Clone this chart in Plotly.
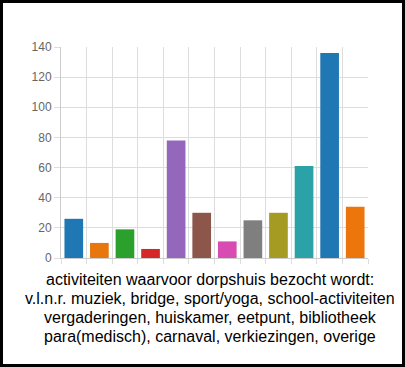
import plotly.graph_objects as go

categories = ["muziek", "bridge", "sport/yoga", "school-activiteiten", "vergaderingen",
              "huiskamer", "eetpunt", "bibliotheek", "para(medisch)", "carnaval",
              "verkiezingen", "overige"]
values = [26, 10, 19, 6, 78, 30, 11, 25, 30, 61, 136, 34]
colors = ['#1f77b4', '#e8760c', '#2ca02c', '#d62728', '#9467bd', '#8c564b',
          '#d84bb2', '#7f7f7f', '#a69b22', '#2aa2a8', '#1f77b4', '#ec760c']
y_ticks = [0, 20, 40, 60, 80, 100, 120, 140]
caption = ["activiteiten waarvoor dorpshuis bezocht wordt:",
           "v.l.n.r. muziek, bridge, sport/yoga, school-activiteiten",
           "vergaderingen, huiskamer, eetpunt, bibliotheek",
           "para(medisch), carnaval, verkiezingen, overige"]

W, H = 405, 367
L, R, T, B = 61, 37, 47, 109
pw, ph = W - L - R, H - T - B

fig = go.Figure(go.Bar(x=categories, y=values, marker=dict(color=colors, line=dict(width=0)),
                       hoverinfo="x+y"))

fig.update_layout(
    width=W, height=H, margin=dict(l=L, r=R, t=T, b=B),
    paper_bgcolor="white", plot_bgcolor="white", showlegend=False, bargap=0.27,
    font=dict(family="Liberation Sans, Arial, sans-serif"),
)
fig.update_xaxes(type="category", tickson="boundaries", showgrid=True, gridcolor="#dddddd",
                 gridwidth=1, ticks="outside", ticklen=5, tickcolor="#dddddd",
                 showticklabels=False, showline=True, linecolor="#cccccc", linewidth=1,
                 zeroline=False, mirror=False)
fig.update_yaxes(range=[0, 140], tickvals=y_ticks, showgrid=True, gridcolor="#dddddd",
                 gridwidth=1, ticks="outside", ticklen=6, tickcolor="#dddddd",
                 tickfont=dict(size=12, color="#666666"), showline=True,
                 linecolor="#cccccc", linewidth=1, zeroline=False)

cx = (210 - L) / pw
for i, line in enumerate(caption):
    ypx = 279.5 + i * 19
    fig.add_annotation(text=line, xref="paper", yref="paper", x=cx,
                       y=1 - (ypx - T) / ph, xanchor="center", yanchor="middle",
                       showarrow=False, font=dict(size=16, color="#000000"))

def px_x(v):
    return (v - L) / pw

def px_y(v):
    return 1 - (v - T) / ph

# outer black frame
fig.add_shape(type="rect", xref="paper", yref="paper", x0=px_x(1.5), x1=px_x(W - 1.5),
              y0=px_y(H - 1.5), y1=px_y(1.5), line=dict(color="black", width=3),
              fillcolor="rgba(0,0,0,0)", layer="above")

fig.write_html("out.html", config={"displayModeBar": False},
               post_script="document.body.style.margin='0';document.body.style.overflow='hidden';")
